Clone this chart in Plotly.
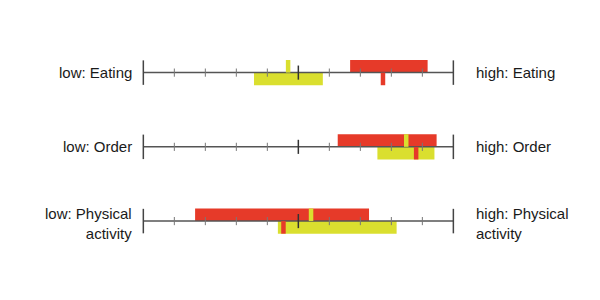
import plotly.graph_objects as go

# ---- data ----
rows = ["Eating", "Order", "Physical activity"]
low_labels = ["low: Eating", "low: Order", "low: Physical<br>activity"]
high_labels = ["high: Eating", "high: Order", "high: Physical<br>activity"]
red_start = [6.67, 6.27, 1.67]
red_end = [9.17, 9.46, 7.28]
red_mark = [7.73, 8.80, 4.52]
yel_start = [3.57, 7.55, 4.34]
yel_end = [5.79, 9.39, 8.17]
yel_mark = [4.67, 8.48, 5.41]
ticks = [0, 1, 2, 3, 4, 5, 6, 7, 8, 9, 10]

RED = "#E63A29"
YEL = "#DADF2F"
AX = "#555555"
BH = 0.17  # bar thickness in row units

fig = go.Figure()

ys = list(range(len(rows)))

# axis lines
for i in ys:
    fig.add_trace(go.Scatter(x=[ticks[0], ticks[-1]], y=[i, i], mode="lines",
                             line=dict(color=AX, width=1.5), hoverinfo="skip", showlegend=False))

# bars
fig.add_trace(go.Bar(orientation="h", y=[i - BH / 2 for i in ys],
                     x=[e - s for s, e in zip(red_start, red_end)], base=red_start,
                     width=BH, marker=dict(color=RED, line=dict(width=0)), showlegend=False))
fig.add_trace(go.Bar(orientation="h", y=[i + BH / 2 for i in ys],
                     x=[e - s for s, e in zip(yel_start, yel_end)], base=yel_start,
                     width=BH, marker=dict(color=YEL, line=dict(width=0)), showlegend=False))

# ticks
for i in ys:
    for t in ticks:
        if t in (ticks[0], ticks[-1]):
            h, w, c = 0.165, 1.5, "#444444"
        elif t == 5:
            h, w, c = 0.095, 1.5, "#333333"
        else:
            h, w, c = 0.055, 1, "#777777"
        fig.add_trace(go.Scatter(x=[t, t], y=[i - h, i + h], mode="lines",
                                 line=dict(color=c, width=w), hoverinfo="skip", showlegend=False))

# markers (medians)
for i in ys:
    fig.add_trace(go.Scatter(x=[yel_mark[i], yel_mark[i]], y=[i - BH, i], mode="lines",
                             line=dict(color=YEL, width=4.5), hoverinfo="skip", showlegend=False))
    fig.add_trace(go.Scatter(x=[red_mark[i], red_mark[i]], y=[i, i + BH], mode="lines",
                             line=dict(color=RED, width=4.5), hoverinfo="skip", showlegend=False))

# labels
for i in ys:
    dy = 0.03 if "<br>" in low_labels[i] else 0
    fig.add_annotation(x=-0.3, y=i + dy, xref="x", yref="y", text=low_labels[i], showarrow=False,
                       xanchor="right", yanchor="middle", align="right",
                       font=dict(family="Liberation Sans, Arial", size=15, color="#1a1a1a"))
    fig.add_annotation(x=10.68, y=i + dy, xref="x", yref="y", text=high_labels[i], showarrow=False,
                       xanchor="left", yanchor="middle", align="left",
                       font=dict(family="Liberation Sans, Arial", size=15, color="#1a1a1a"))

fig.update_layout(
    width=600, height=300, margin=dict(l=0, r=0, t=0, b=0),
    paper_bgcolor="white", plot_bgcolor="white", barmode="overlay",
    xaxis=dict(range=[-4.623, 14.73], visible=False, fixedrange=True),
    yaxis=dict(range=[3.063, -0.978], visible=False, fixedrange=True),
)

fig.write_html("out.html")
